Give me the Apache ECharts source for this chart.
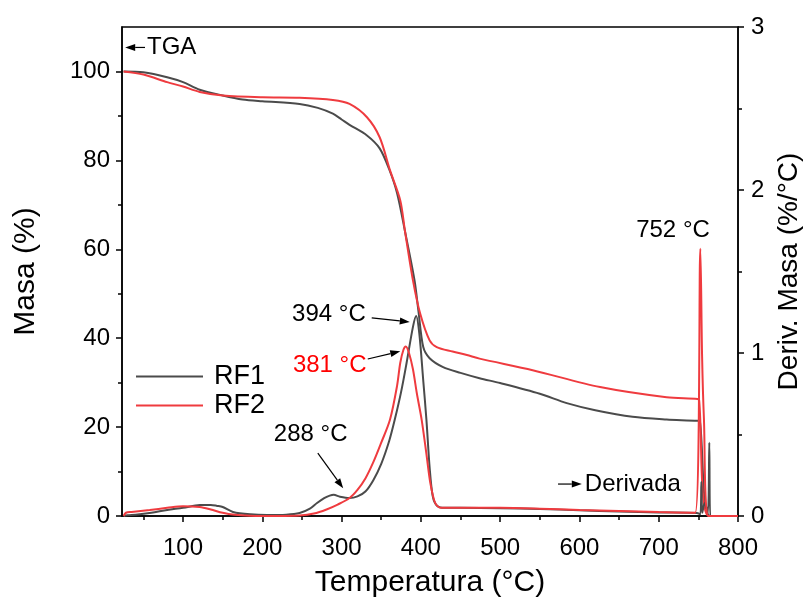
<!DOCTYPE html>
<html>
<head>
<meta charset="utf-8">
<script src="https://cdn.jsdelivr.net/npm/echarts@6/dist/echarts.min.js"></script>
<style>
  html, body { margin: 0; padding: 0; background: #fff; }
  #chart { width: 803px; height: 604px; }
</style>
</head>
<body>
<div id="chart"></div>
<script>
// Thermogravimetric curves (mass, %) and their derivatives (%/°C) for RF1 and RF2
const rf1TgaTemp = [25, 50, 80, 100, 121, 150, 175, 200, 247, 270, 289, 300, 310, 332, 348, 360, 370, 380, 392, 397, 403, 411, 428, 450, 474, 500, 550, 584, 620, 667, 710, 749, 752, 765, 800];
const rf1TgaMass = [100, 99.8, 98.7, 97.6, 95.9, 94.6, 93.7, 93.3, 92.7, 91.8, 90.5, 89.2, 88, 85.6, 82.7, 78, 72.6, 64, 53, 46, 38, 35.5, 33.5, 32.2, 31, 29.9, 27.5, 25.4, 23.8, 22.3, 21.7, 21.4, 21.2, 0, 0];

const rf2TgaTemp = [25, 50, 80, 100, 121, 150, 200, 247, 289, 310, 332, 348, 361, 374, 380, 390, 399, 411, 420, 440, 458, 474, 541, 626, 710, 749, 751, 763, 800];
const rf2TgaMass = [100, 99.3, 97.6, 96.6, 95.4, 94.6, 94.2, 94.1, 93.6, 92.7, 89.7, 85.2, 77.8, 71, 64, 53, 45.6, 39.5, 38, 37, 36.2, 35.4, 32.8, 29, 26.7, 26.3, 26, 0, 0];

const rf1DtgTemp = [25, 30, 40, 60, 80, 100, 121, 135, 143, 150, 163, 185, 206, 230, 247, 260, 269, 278, 285, 290, 298, 310, 320, 330, 340, 350, 360, 367, 375, 382, 390, 394, 398, 403, 407, 411, 415, 420, 430, 450, 500, 550, 600, 650, 700, 748, 752.5, 753.8, 755, 758, 762, 763.8, 765, 800];
const rf1DtgRate = [0, 0.005, 0.008, 0.02, 0.037, 0.05, 0.067, 0.068, 0.062, 0.055, 0.025, 0.01, 0.006, 0.008, 0.018, 0.045, 0.08, 0.11, 0.125, 0.13, 0.118, 0.11, 0.12, 0.15, 0.22, 0.32, 0.46, 0.59, 0.76, 0.94, 1.16, 1.227, 1.12, 0.83, 0.59, 0.3, 0.12, 0.065, 0.05, 0.05, 0.048, 0.043, 0.035, 0.028, 0.022, 0.018, 0.01, 0.21, 0.02, 0.08, 0.02, 0.45, 0, 0];

const rf2DtgTemp = [25, 28, 35, 58, 80, 100, 121, 135, 150, 165, 184, 220, 247, 265, 281, 295, 310, 320, 330, 340, 350, 361, 370, 374, 378, 381, 385, 390, 395, 401, 407, 412, 418, 425, 440, 500, 550, 600, 650, 700, 746, 752.5, 754.7, 757, 763, 800];
const rf2DtgRate = [0, 0.02, 0.025, 0.037, 0.05, 0.06, 0.055, 0.04, 0.02, 0.008, 0.002, 0, 0.003, 0.015, 0.04, 0.07, 0.11, 0.16, 0.23, 0.33, 0.45, 0.59, 0.8, 0.94, 1.02, 1.04, 1.0, 0.9, 0.75, 0.59, 0.38, 0.2, 0.08, 0.05, 0.05, 0.05, 0.045, 0.037, 0.03, 0.024, 0.02, 1.64, 0.98, 0.6, 0, 0];

const seriesNames = ['RF1', 'RF2'];
const xLabelValues = [100, 200, 300, 400, 500, 600, 700, 800];
const xMinorValues = [50, 150, 250, 350, 450, 550, 650, 750];
const yLabelValues = [0, 20, 40, 60, 80, 100];
const yMinorValues = [10, 30, 50, 70, 90];

// Peak annotations: label, text centre, arrow start and end (°C, %/°C)
const peakNotes = [
  { text: '394 °C', at: [284, 1.24], from: [338, 1.215], to: [386, 1.19], color: '#000' },
  { text: '381 °C', at: [285, 0.925], from: [333, 0.963], to: [374, 1.01], color: '#ff0000' },
  { text: '288 °C', at: [261, 0.50], from: [270, 0.386], to: [302, 0.17], color: '#000' },
  { text: '752 °C', at: [718, 1.75], from: null, to: null, color: '#000' }
];

const GREY = '#4b4b4b';
const RED = '#ef3b3f';
const FONT = 'Liberation Sans, Arial, sans-serif';
const TICK_FS = 24;
const TITLE_FS = 30;

const zip = (xs, ys) => xs.map((x, i) => [x, ys[i]]);

const chart = echarts.init(document.getElementById('chart'), null, { renderer: 'canvas' });

const axisLineStyle = { color: '#000', width: 1.5 };
const tickLine = { width: 1.5, color: '#000' };

function lineSeries(name, data, yIdx, color) {
  return {
    name: name,
    type: 'line',
    xAxisIndex: 0,
    yAxisIndex: yIdx,
    data: data,
    symbol: 'none',
    showSymbol: false,
    smooth: 0.3,
    lineStyle: { color: color, width: 2 },
    itemStyle: { color: color },
    animation: false,
    z: 3
  };
}

chart.setOption({
  animation: false,
  grid: {
    left: 122, right: 65, top: 27, bottom: 88,
    containLabel: false,
    outerBoundsMode: 'none',
    show: true,
    borderColor: '#000',
    borderWidth: 1.5,
    backgroundColor: 'transparent'
  },
  legend: {
    data: seriesNames.map((n) => ({ name: n, icon: 'rect' })),
    orient: 'vertical',
    left: 131,
    top: 358,
    itemWidth: 67,
    itemHeight: 2,
    itemGap: 2,
    textStyle: { fontFamily: FONT, fontSize: 27, color: '#000', padding: [0, 0, 0, 6] }
  },
  xAxis: [
    {
      type: 'value',
      min: 23, max: 800,
      name: 'Temperatura (°C)',
      nameLocation: 'middle',
      nameGap: 52,
      nameTextStyle: { fontFamily: FONT, fontSize: TITLE_FS, color: '#000' },
      axisLine: { show: true, onZero: false, lineStyle: axisLineStyle },
      axisTick: { show: true, inside: false, length: 6, lineStyle: tickLine, customValues: xLabelValues },
      axisLabel: { fontFamily: FONT, fontSize: TICK_FS, color: '#000', margin: 20, customValues: xLabelValues },
      splitLine: { show: false }
    },
    {
      type: 'value',
      min: 23, max: 800,
      position: 'bottom',
      axisLine: { show: false, onZero: false },
      axisTick: { show: true, inside: false, length: 4, lineStyle: tickLine, customValues: xMinorValues },
      axisLabel: { show: false },
      splitLine: { show: false }
    }
  ],
  yAxis: [
    {
      type: 'value',
      min: 0, max: 110,
      position: 'left',
      name: 'Masa (%)',
      nameLocation: 'middle',
      nameGap: 81,
      nameTextStyle: { fontFamily: FONT, fontSize: TITLE_FS, color: '#000' },
      axisLine: { show: true, onZero: false, lineStyle: axisLineStyle },
      axisTick: { show: true, inside: false, length: 6, lineStyle: tickLine, customValues: yLabelValues },
      axisLabel: { fontFamily: FONT, fontSize: TICK_FS, color: '#000', margin: 12, customValues: yLabelValues },
      splitLine: { show: false }
    },
    {
      type: 'value',
      min: 0, max: 3, interval: 1,
      position: 'right',
      name: 'Deriv. Masa (%/°C)',
      nameLocation: 'middle',
      nameGap: 35,
      nameRotate: 90,
      nameTextStyle: { fontFamily: FONT, fontSize: TITLE_FS - 2, color: '#000' },
      axisLine: { show: true, onZero: false, lineStyle: axisLineStyle },
      axisTick: { show: true, inside: false, length: 6, lineStyle: tickLine },
      minorTick: { show: true, splitNumber: 2, length: 4, lineStyle: tickLine },
      axisLabel: { fontFamily: FONT, fontSize: TICK_FS, color: '#000', margin: 13 },
      splitLine: { show: false }
    },
    {
      type: 'value',
      min: 0, max: 110,
      position: 'left',
      axisLine: { show: false, onZero: false },
      axisTick: { show: true, inside: false, length: 4, lineStyle: tickLine, customValues: yMinorValues },
      axisLabel: { show: false },
      splitLine: { show: false }
    }
  ],
  series: [
    lineSeries('RF1', zip(rf1TgaTemp, rf1TgaMass), 0, GREY),
    lineSeries('RF2', zip(rf2TgaTemp, rf2TgaMass), 0, RED),
    lineSeries('RF1', zip(rf1DtgTemp, rf1DtgRate), 1, GREY),
    lineSeries('RF2', zip(rf2DtgTemp, rf2DtgRate), 1, RED)
  ]
});

// Arrow with a filled head, drawn between two pixel points
function arrow(p0, p1) {
  const dx = p1[0] - p0[0], dy = p1[1] - p0[1];
  const len = Math.sqrt(dx * dx + dy * dy);
  const ux = dx / len, uy = dy / len;
  const headLen = 10, headW = 3.5;
  const bx = p1[0] - ux * headLen, by = p1[1] - uy * headLen;
  return [
    { type: 'line', shape: { x1: p0[0], y1: p0[1], x2: bx, y2: by }, style: { stroke: '#000', lineWidth: 1.2 }, z: 10 },
    { type: 'polygon', shape: { points: [[p1[0], p1[1]], [bx - uy * headW, by + ux * headW], [bx + uy * headW, by - ux * headW]] }, style: { fill: '#000' }, z: 10 }
  ];
}

const toRight = (p) => chart.convertToPixel({ xAxisIndex: 0, yAxisIndex: 1 }, p);
const toLeft = (p) => chart.convertToPixel({ xAxisIndex: 0, yAxisIndex: 0 }, p);

const graphics = [];
peakNotes.forEach((n) => {
  const c = toRight(n.at);
  graphics.push({
    type: 'text', x: c[0], y: c[1], z: 10,
    style: { text: n.text, fontFamily: FONT, fontSize: TICK_FS, fill: n.color, align: 'center', verticalAlign: 'middle' }
  });
  if (n.from) graphics.push(...arrow(toRight(n.from), toRight(n.to)));
});

// Curve-group markers: TGA (left axis) and Derivada (right axis)
const tgaFrom = toLeft([52, 105.4]), tgaTo = toLeft([27, 105.4]);
graphics.push(...arrow(tgaFrom, tgaTo));
graphics.push({
  type: 'text', x: tgaFrom[0] + 2, y: tgaFrom[1], z: 10,
  style: { text: 'TGA', fontFamily: FONT, fontSize: TICK_FS, fill: '#000', align: 'left', verticalAlign: 'middle' }
});
const dFrom = toRight([573, 0.196]), dTo = toRight([603, 0.196]);
graphics.push(...arrow(dFrom, dTo));
graphics.push({
  type: 'text', x: dTo[0] + 3, y: dTo[1], z: 10,
  style: { text: 'Derivada', fontFamily: FONT, fontSize: TICK_FS, fill: '#000', align: 'left', verticalAlign: 'middle' }
});

chart.setOption({ graphic: graphics });
</script>
</body>
</html>
